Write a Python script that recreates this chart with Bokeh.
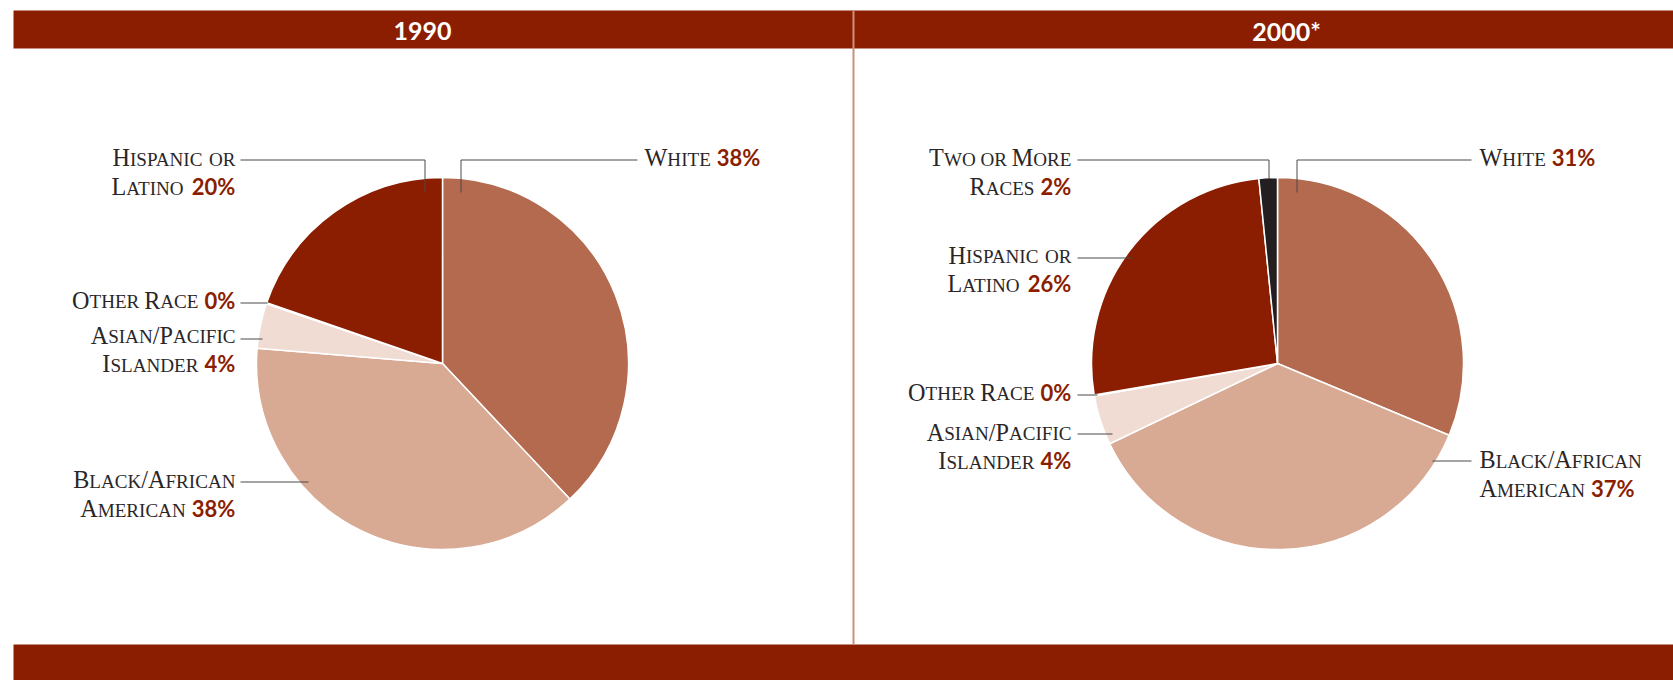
import math
from bokeh.plotting import figure
from bokeh.models import Range1d, ColumnDataSource
from bokeh.core.properties import value
from bokeh.embed import file_html
from bokeh.resources import INLINE

# ---------------- data ----------------
years = ["1990", "2000*"]
categories_1990 = ["White", "Black/African\nAmerican", "Asian/Pacific\nIslander",
                   "Other Race", "Hispanic or\nLatino"]
values_1990 = [38.0, 38.3, 3.9, 0.1, 19.7]
pct_labels_1990 = ["38%", "38%", "4%", "0%", "20%"]

categories_2000 = ["White", "Black/African\nAmerican", "Asian/Pacific\nIslander",
                   "Other Race", "Hispanic or\nLatino", "Two or More\nRaces"]
values_2000 = [31.3, 36.6, 4.3, 0.1, 26.1, 1.6]
pct_labels_2000 = ["31%", "37%", "4%", "0%", "26%", "2%"]

# ---------------- style ----------------
DARK_RED = "#8b1e00"
COLORS = {
    "White": "#b46a4e",
    "Black/African\nAmerican": "#d8a993",
    "Asian/Pacific\nIslander": "#f0dcd3",
    "Other Race": "#e6c4b4",
    "Hispanic or\nLatino": "#8b1e00",
    "Two or More\nRaces": "#231f20",
}
TEXT_COLOR = "#2a2627"
LEADER_COLOR = "#4a4a4a"
SERIF = "Liberation Serif"
SANS = "Lato"
CAP_SIZE = 24.2
SMALL_SIZE = 19.1
PCT_SIZE = 22
HEAD_SIZE = 25
LINE_GAP = 28.7
R = 186
# correction of the renderer's baseline offset (fraction of font size)
K_SERIF = 0.35
K_SANS = 0.38

PAGE_W, PAGE_H = 1673, 680


def Y(sy):
    return PAGE_H - sy


# Times/Liberation Serif advance widths (em fraction)
SERIF_W = {'A': .722, 'B': .667, 'C': .667, 'D': .722, 'E': .611, 'F': .556, 'G': .722,
           'H': .722, 'I': .333, 'J': .389, 'K': .722, 'L': .611, 'M': .889, 'N': .722,
           'O': .722, 'P': .556, 'Q': .722, 'R': .667, 'S': .556, 'T': .611, 'U': .722,
           'V': .722, 'W': .944, 'X': .722, 'Y': .722, 'Z': .611, ' ': .25, '/': .278}
LATO_W = {'%': .83}

# layout (screen coordinates): alignment, x edge, first baseline, leader polyline
layout_1990 = [
    ("left", 644, 165.5, [(637, 159.5), (460.5, 159.5), (460.5, 192)]),
    ("right", 235, 487.5, [(240, 481.5), (308, 481.5)]),
    ("right", 235, 343, [(240, 338.5), (262, 338.5)]),
    ("right", 235, 308, [(240, 302.5), (267, 302.5)]),
    ("right", 235, 165.5, [(240, 159.5), (424.5, 159.5), (424.5, 192)]),
]
layout_2000 = [
    ("left", 1479, 165.5, [(1471, 159.5), (1296.5, 159.5), (1296.5, 192)]),
    ("left", 1479, 467.5, [(1432, 460.5), (1471, 460.5)]),
    ("right", 1071, 440, [(1077, 433.5), (1112, 433.5)]),
    ("right", 1071, 400, [(1077, 394.5), (1097, 394.5)]),
    ("right", 1071, 263, [(1077, 257.5), (1132, 257.5)]),
    ("right", 1071, 165.5, [(1077, 159.5), (1268.5, 159.5), (1268.5, 178)]),
]

panels = [
    (years[0], categories_1990, values_1990, pct_labels_1990, layout_1990, 442, 363, 422),
    (years[1], categories_2000, values_2000, pct_labels_2000, layout_2000, 1277, 363, 1286),
]

p = figure(width=PAGE_W, height=PAGE_H, x_range=Range1d(0, PAGE_W),
           y_range=Range1d(0, PAGE_H), output_backend="svg", toolbar_location=None,
           x_axis_location=None, y_axis_location=None, min_border=0)
p.min_border_left = p.min_border_right = p.min_border_top = p.min_border_bottom = 0
p.grid.visible = False
p.outline_line_color = None
p.background_fill_color = "white"
p.border_fill_color = "white"

# bars
p.quad(left=13, right=PAGE_W, bottom=Y(48), top=Y(10), fill_color=DARK_RED, line_color=None)
p.quad(left=13, right=PAGE_W, bottom=Y(PAGE_H), top=Y(644), fill_color=DARK_RED, line_color=None)
# divider
p.segment(x0=853, y0=Y(10), x1=853, y1=Y(644), line_color="#c9917c", line_width=2)

SIZES = {"cap": CAP_SIZE * K_SERIF, "small": SMALL_SIZE * K_SERIF, "pct": PCT_SIZE * K_SANS}
runs = {"cap": dict(x=[], y=[], t=[]), "small": dict(x=[], y=[], t=[]), "pct": dict(x=[], y=[], t=[])}
lead_xs, lead_ys = [], []


def build_line(text, pct):
    """Return list of (x_offset, text, kind) and total width, small-caps emulation."""
    items = []
    x = 0.0
    cur = None
    for ch in text:
        if ch == ' ':
            x += SERIF_W[' '] * SMALL_SIZE
            cur = None
            continue
        if ch.islower():
            kind, out, size = "small", ch.upper(), SMALL_SIZE
        else:
            kind, out, size = "cap", ch, CAP_SIZE
        if cur is not None and cur[2] == kind:
            cur[1] += out
        else:
            cur = [x, out, kind]
            items.append(cur)
        x += SERIF_W.get(out, .6) * size
    if pct:
        x += 6
        items.append([x, pct, "pct"])
        x += sum(LATO_W.get(c, .58) for c in pct) * PCT_SIZE
    return items, x


for year, cats, vals, pcts, lay, cx, cy, hx in panels:
    total = sum(vals)
    starts, ends = [], []
    c = 0.0
    for v in vals:
        starts.append(math.pi / 2 - 2 * math.pi * (c + v) / total)
        ends.append(math.pi / 2 - 2 * math.pi * c / total)
        c += v
    src = ColumnDataSource(dict(s=starts, e=ends, col=[COLORS[k] for k in cats]))
    p.wedge(x=cx, y=Y(cy), radius=R, start_angle="s", end_angle="e", fill_color="col",
            line_color="white", line_width=1.5, source=src)

    # header text
    p.text(x=[hx], y=[Y(40 - HEAD_SIZE * K_SANS)], text=[year], text_color="white",
           text_font=value(SANS), text_font_style="bold", text_font_size=f"{HEAD_SIZE}px",
           text_align="center", text_baseline="alphabetic")

    for cat, pct, (align, xe, base, pts) in zip(cats, pcts, lay):
        lines = cat.split("\n")
        for i, ln in enumerate(lines):
            is_last = i == len(lines) - 1
            items, wd = build_line(ln, pct if is_last else None)
            x0 = xe if align == "left" else xe - wd
            by = base + i * LINE_GAP
            for off, t, kind in items:
                runs[kind]["x"].append(x0 + off)
                runs[kind]["y"].append(Y(by - SIZES[kind]))
                runs[kind]["t"].append(t)
        lead_xs.append([pt[0] for pt in pts])
        lead_ys.append([Y(pt[1]) for pt in pts])

p.multi_line(xs=lead_xs, ys=lead_ys, line_color=LEADER_COLOR, line_width=1)

p.text(x="x", y="y", text="t", source=ColumnDataSource(runs["cap"]), text_color=TEXT_COLOR,
       text_font=value(SERIF), text_font_size=f"{CAP_SIZE}px", text_align="left",
       text_baseline="alphabetic")
p.text(x="x", y="y", text="t", source=ColumnDataSource(runs["small"]), text_color=TEXT_COLOR,
       text_font=value(SERIF), text_font_size=f"{SMALL_SIZE}px", text_align="left",
       text_baseline="alphabetic")
p.text(x="x", y="y", text="t", source=ColumnDataSource(runs["pct"]), text_color=DARK_RED,
       text_font=value(SANS), text_font_style="bold", text_font_size=f"{PCT_SIZE}px",
       text_align="left", text_baseline="alphabetic")

open("out.html", "w").write(file_html(p, INLINE))
